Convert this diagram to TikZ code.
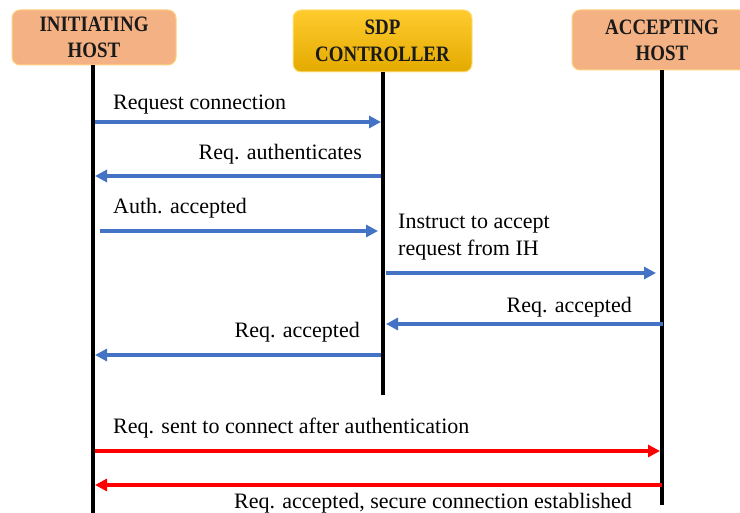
\documentclass[tikz,border=0pt]{standalone}
\usepackage{fontspec}
\setmainfont{Liberation Serif}
\newfontfamily\headfont[FakeStretch=0.86]{Liberation Serif}
\usetikzlibrary{arrows.meta}
\definecolor{msgblue}{HTML}{4472C4}
\definecolor{msgred}{HTML}{FF0000}
\definecolor{hostfill}{HTML}{F4B183}
\definecolor{hostedge}{HTML}{FFD27F}
\definecolor{ctrltop}{HTML}{FFCB2E}
\definecolor{ctrlbot}{HTML}{E3AA00}
\definecolor{ctrledge}{HTML}{FFE082}
\definecolor{headink}{HTML}{1A1A1A}
\tikzset{
  x=1pt, y=-1pt,
  hostbox/.style={draw=hostedge, line width=1pt, fill=hostfill, rounded corners=8pt,
    align=center, text=headink, font=\headfont\bfseries\fontsize{22}{26}\selectfont, inner sep=0pt},
  ctrlbox/.style={draw=ctrledge, line width=1pt, top color=ctrltop, bottom color=ctrlbot,
    rounded corners=8pt, align=center, text=headink, font=\headfont\bfseries\fontsize{22}{27}\selectfont, inner sep=0pt},
  lifeline/.style={line width=4pt, black},
  msg/.style={line width=3.2pt, msgblue, -{Triangle[length=12pt, width=12pt]}},
  redmsg/.style={line width=3.2pt, msgred, -{Triangle[length=12pt, width=12pt]}},
  lbl/.style={font=\fontsize{22}{27}\selectfont, inner sep=0pt, align=left},
}
\begin{document}
\begin{tikzpicture}
\useasboundingbox (0,0) rectangle (740,513);
\begin{scope}
\clip (0,0) rectangle (740,513);
% participants
\node[hostbox, minimum width=164pt, minimum height=55pt] (ih) at (94,37.5) {INITIATING\\HOST};
\node[ctrlbox, minimum width=179pt, minimum height=62pt] (sdp) at (382.5,41) {SDP\\CONTROLLER};
\node[hostbox, minimum width=180pt, minimum height=60pt, text width=160pt] (ah) at (662,40) {ACCEPTING\\HOST};

% lifelines
\coordinate (ihend) at (93,513);
\coordinate (sdpend) at (383,395);
\coordinate (ahend) at (662,505);
\draw[lifeline] (ih.south -| ihend) -- (ihend);
\draw[lifeline] (sdp.south -| sdpend) -- (sdpend);
\draw[lifeline] (ah.south -| ahend) -- (ahend);
\end{scope}

% message end points
\coordinate (m1s) at (95,122);  \coordinate (m1e) at (381,122);
\coordinate (m2s) at (381,176); \coordinate (m2e) at (95,176);
\coordinate (m3s) at (100,231); \coordinate (m3e) at (378,231);
\coordinate (m4s) at (386,273); \coordinate (m4e) at (656,273);
\coordinate (m5s) at (663,324); \coordinate (m5e) at (386,324);
\coordinate (m6s) at (381,355); \coordinate (m6e) at (95,355);
\coordinate (m7s) at (95,451);  \coordinate (m7e) at (660,451);
\coordinate (m8s) at (662,485); \coordinate (m8e) at (95,485);

% messages
\draw[msg] (m1s) -- (m1e);
\draw[msg] (m2s) -- (m2e);
\draw[msg] (m3s) -- (m3e);
\draw[msg] (m4s) -- (m4e);
\draw[msg] (m5s) -- (m5e);
\draw[msg] (m6s) -- (m6e);
\draw[redmsg] (m7s) -- (m7e);
\draw[redmsg] (m8s) -- (m8e);

% labels
\node[lbl, anchor=base west] (l1) at (113,110) {Request connection};
\node[lbl, anchor=base east] (l2) at (362,160) {Req. authenticates};
\node[lbl, anchor=base west] (l3) at (113,214) {Auth. accepted};
\node[lbl, anchor=base west] (l4a) at (398,229) {Instruct to accept};
\node[lbl, anchor=base west] (l4b) at (398,256) {request from IH};
\node[lbl, anchor=base east] (l5) at (632,313) {Req. accepted};
\node[lbl, anchor=base east] (l6) at (360,338) {Req. accepted};
\node[lbl, anchor=base west] (l7) at (113,434) {Req. sent to connect after authentication};
\node[lbl, anchor=base east] (l8) at (632,508) {Req. accepted, secure connection established};
\end{tikzpicture}
\end{document}
